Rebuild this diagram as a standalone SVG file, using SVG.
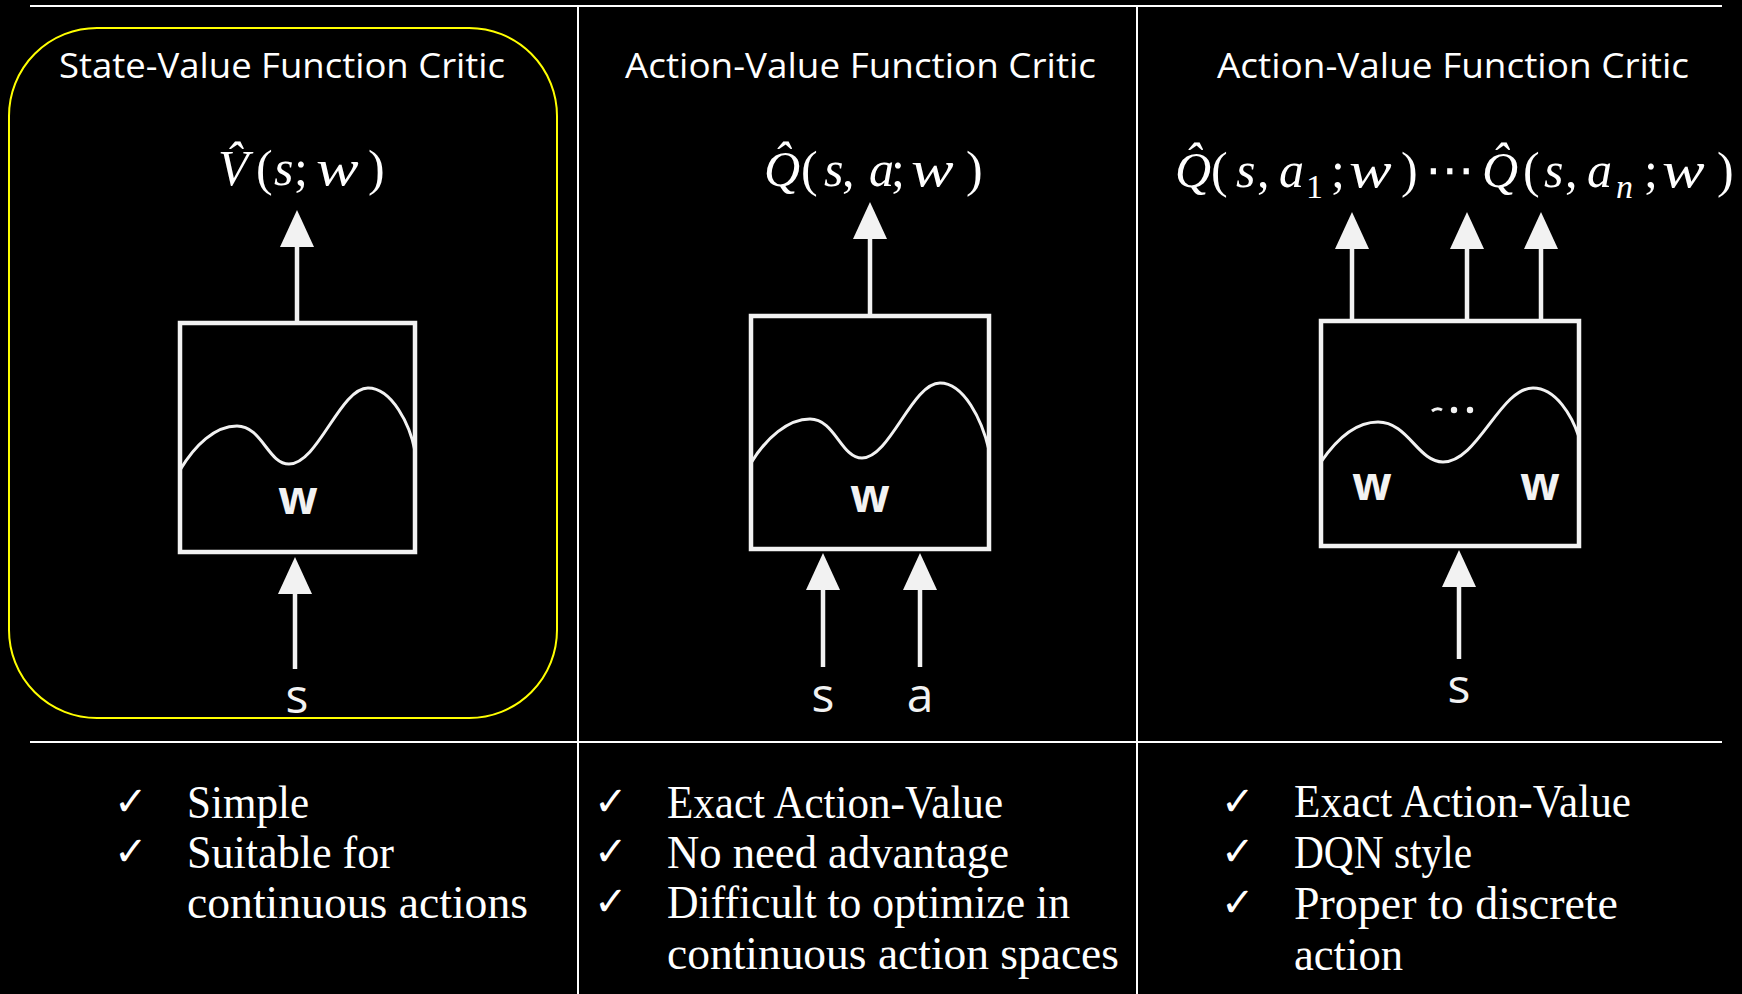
<svg xmlns="http://www.w3.org/2000/svg" width="1742" height="994" viewBox="0 0 1742 994">
  <style>
    .title { font-family: "Open Sans", "Noto Sans", sans-serif; font-size: 35px; fill: #ffffff; }
    .math { font-family: "Liberation Serif", serif; font-size: 50px; fill: #ffffff; }
    .it { font-style: italic; }
    .sub { font-size: 34px; }
    .dots { font-family: "DejaVu Sans", sans-serif; font-size: 50px; fill: #ffffff; }
    .wlab { font-family: "Open Sans", "Noto Sans", sans-serif; font-weight: 700; font-size: 46px; fill: #f2f2f2; text-anchor: middle; }
    .inlab { font-family: "Open Sans", "Noto Sans", sans-serif; font-size: 48px; fill: #f2f2f2; text-anchor: middle; }
    .box { fill: none; stroke: #f2f2f2; stroke-width: 4.5; }
    .curve { fill: none; stroke: #f2f2f2; stroke-width: 3; stroke-linecap: round; }
    .arrow { stroke: #f2f2f2; stroke-width: 4.5; fill: none; marker-end: url(#head); }
    .rule { stroke: #ffffff; stroke-width: 2; }
    .body { font-family: "Liberation Serif", serif; font-size: 47px; fill: #ffffff; }
    .check { font-family: "DejaVu Sans", sans-serif; font-size: 40px; fill: #ffffff; }
  </style>
  <defs>
    <marker id="head" markerUnits="userSpaceOnUse" markerWidth="40" markerHeight="36" refX="0" refY="17" orient="auto" overflow="visible">
      <path d="M0,0 L37,17 L0,34 Z" fill="#f2f2f2"/>
    </marker>
  </defs>

  <rect width="1742" height="994" fill="#000000"/>

  <!-- table rules -->
  <g id="frame">
    <line class="rule" x1="30" y1="6" x2="1722" y2="6"/>
    <line class="rule" x1="30" y1="742" x2="1722" y2="742" stroke-width="3"/>
    <line class="rule" x1="578" y1="6" x2="578" y2="994"/>
    <line class="rule" x1="1137" y1="6" x2="1137" y2="994"/>
  </g>

  <!-- highlight around the first column -->
  <rect id="highlight" x="9" y="28" width="548" height="690" rx="88" ry="88" fill="none" stroke="#ffff00" stroke-width="2"/>

  <!-- state-value critic -->
  <g id="node-state-critic">
    <text class="title" x="59" y="78" textLength="446" lengthAdjust="spacingAndGlyphs">State-Value Function Critic</text>
    <text class="math" y="185"><tspan class="it" x="218">V̂</tspan><tspan x="256">(</tspan><tspan class="it" x="274">s</tspan><tspan x="294">;</tspan><tspan x="368">)</tspan></text>
    <text class="math it" transform="translate(316,185) scale(1.28,1)">w</text>
    <rect class="box" x="180" y="323" width="235" height="229"/>
    <path class="curve" d="M180,470 C195,445 215,426 237,426 C262,426 268,464 289,464 C318,464 340,388 368,388 C392,388 410,425 415,451"/>
    <text class="wlab" x="298" y="514">w</text>
    <text class="inlab" x="297" y="713">s</text>
  </g>

  <!-- action-value critic -->
  <g id="node-action-critic">
    <text class="title" x="625" y="78" textLength="471" lengthAdjust="spacingAndGlyphs">Action-Value Function Critic</text>
    <text class="math" y="186"><tspan class="it" x="764">Q̂</tspan><tspan x="801">(</tspan><tspan class="it" x="824">s</tspan><tspan x="842">,</tspan><tspan class="it" x="869">a</tspan><tspan x="891">;</tspan><tspan x="966">)</tspan></text>
    <text class="math it" transform="translate(911,186) scale(1.28,1)">w</text>
    <rect class="box" x="751" y="316" width="238" height="233"/>
    <path class="curve" d="M751,463 C766,438 788,419 810,419 C835,419 841,458 862,458 C890,458 912,383 940,383 C964,383 982,420 989,450"/>
    <text class="wlab" x="870" y="512">w</text>
    <text class="inlab" x="823" y="712">s</text>
    <text class="inlab" x="920" y="712">a</text>
  </g>

  <!-- action-value critic with one output per discrete action -->
  <g id="node-discrete-critic">
    <text class="title" x="1217" y="78" textLength="472" lengthAdjust="spacingAndGlyphs">Action-Value Function Critic</text>
    <text class="math" y="187"><tspan class="it" x="1175">Q̂</tspan><tspan x="1211">(</tspan><tspan class="it" x="1236">s</tspan><tspan x="1257">,</tspan><tspan class="it" x="1279">a</tspan><tspan class="sub" x="1306" y="198">1</tspan><tspan x="1331" y="187">;</tspan><tspan x="1401">)</tspan><tspan class="it" x="1482">Q̂</tspan><tspan x="1523">(</tspan><tspan class="it" x="1544">s</tspan><tspan x="1565">,</tspan><tspan class="it" x="1587">a</tspan><tspan class="it sub" x="1616" y="198">n</tspan><tspan x="1644" y="187">;</tspan><tspan x="1717">)</tspan></text>
    <text class="math it" transform="translate(1349,187) scale(1.28,1)">w</text>
    <text class="math it" transform="translate(1662,187) scale(1.28,1)">w</text>
    <text class="dots" x="1425" y="187">⋯</text>
    <rect class="box" x="1321" y="321" width="258" height="225"/>
    <path class="curve" d="M1321,462 C1336,440 1356,422 1378,422 C1408,422 1418,462 1443,462 C1478,462 1500,388 1533,388 C1556,388 1572,416 1579,437"/>
    <path d="M1432,411 Q1437,407 1442,410" fill="none" stroke="#f2f2f2" stroke-width="3"/>
    <circle cx="1454" cy="410" r="3.2" fill="#f2f2f2"/>
    <circle cx="1470" cy="410" r="3.2" fill="#f2f2f2"/>
    <text class="wlab" x="1372" y="500" font-size="42">w</text>
    <text class="wlab" x="1540" y="500" font-size="42">w</text>
    <text class="inlab" x="1459" y="703">s</text>
  </g>

  <!-- inputs and outputs -->
  <g id="connectors">
    <line class="arrow" x1="297" y1="323" x2="297" y2="247"/>
    <line class="arrow" x1="295" y1="669" x2="295" y2="594"/>
    <line class="arrow" x1="870" y1="316" x2="870" y2="239"/>
    <line class="arrow" x1="823" y1="667" x2="823" y2="590"/>
    <line class="arrow" x1="920" y1="667" x2="920" y2="590"/>
    <line class="arrow" x1="1352" y1="321" x2="1352" y2="249"/>
    <line class="arrow" x1="1467" y1="321" x2="1467" y2="249"/>
    <line class="arrow" x1="1541" y1="321" x2="1541" y2="249"/>
    <line class="arrow" x1="1459" y1="659" x2="1459" y2="587"/>
  </g>

  <!-- properties of each critic -->
  <g id="notes-state-critic">
    <text class="check" x="114" y="815">✓</text>
    <text class="check" x="114" y="865">✓</text>
    <text class="body" x="187" y="818" textLength="122" lengthAdjust="spacingAndGlyphs">Simple</text>
    <text class="body" x="187" y="868" textLength="207" lengthAdjust="spacingAndGlyphs">Suitable for</text>
    <text class="body" x="187" y="918" textLength="341" lengthAdjust="spacingAndGlyphs">continuous actions</text>
  </g>
  <g id="notes-action-critic">
    <text class="check" x="594" y="815">✓</text>
    <text class="check" x="594" y="865">✓</text>
    <text class="check" x="594" y="915">✓</text>
    <text class="body" x="667" y="818" textLength="336" lengthAdjust="spacingAndGlyphs">Exact Action-Value</text>
    <text class="body" x="667" y="868" textLength="342" lengthAdjust="spacingAndGlyphs">No need advantage</text>
    <text class="body" x="667" y="918" textLength="403" lengthAdjust="spacingAndGlyphs">Difficult to optimize in</text>
    <text class="body" x="667" y="969" textLength="452" lengthAdjust="spacingAndGlyphs">continuous action spaces</text>
  </g>
  <g id="notes-discrete-critic">
    <text class="check" x="1221" y="815">✓</text>
    <text class="check" x="1221" y="865">✓</text>
    <text class="check" x="1221" y="916">✓</text>
    <text class="body" x="1294" y="817" textLength="337" lengthAdjust="spacingAndGlyphs">Exact Action-Value</text>
    <text class="body" x="1294" y="868" textLength="178" lengthAdjust="spacingAndGlyphs">DQN style</text>
    <text class="body" x="1294" y="919" textLength="324" lengthAdjust="spacingAndGlyphs">Proper to discrete</text>
    <text class="body" x="1294" y="970" textLength="109" lengthAdjust="spacingAndGlyphs">action</text>
  </g>
</svg>
